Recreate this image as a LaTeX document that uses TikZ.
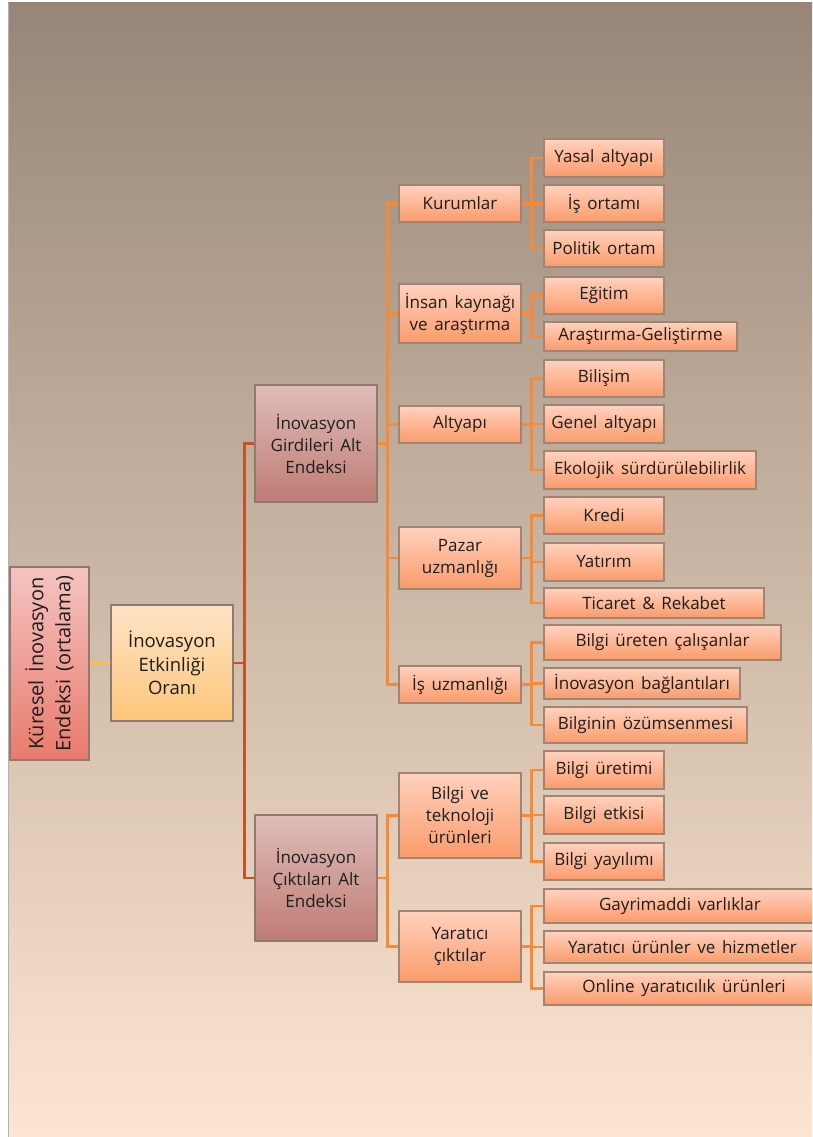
\documentclass[tikz,border=0pt]{standalone}
\usepackage{fontspec}
\setmainfont{Open Sans}[WordSpace=1.5]
\definecolor{bgtop}{HTML}{978677}
\definecolor{bgbot}{HTML}{FDE6D1}
\definecolor{leaftop}{HTML}{FFD1BE}
\definecolor{leafbot}{HTML}{FA9B6A}
\definecolor{leafline}{HTML}{A08575}
\definecolor{midtop}{HTML}{DFBDB9}
\definecolor{midbot}{HTML}{BF7B73}
\definecolor{midline}{HTML}{8F7A72}
\definecolor{onetop}{HTML}{FEE3C6}
\definecolor{onebot}{HTML}{FDC679}
\definecolor{roottop}{HTML}{F5C3C1}
\definecolor{rootbot}{HTML}{E97B6C}
\definecolor{connor}{HTML}{F98A35}
\definecolor{connrust}{HTML}{C25427}
\definecolor{connyel}{HTML}{F8BE50}
\definecolor{txt}{HTML}{1E1E1E}
\begin{document}
\begin{tikzpicture}[x=1pt,y=-1pt,
  leaf/.style={draw=leafline, line width=1.3pt, top color=leaftop, bottom color=leafbot,
    inner sep=0pt, minimum width=120, minimum height=37, text=txt, align=center,
    font=\fontsize{17}{22}\selectfont},
  midbox/.style={leaf, minimum width=122},
  subidx/.style={draw=midline, line width=1.3pt, top color=midtop, bottom color=midbot,
    inner sep=0pt, minimum width=122, text=txt, align=center,
    font=\fontsize{17}{22}\selectfont},
  ratio/.style={draw=midline, line width=1.3pt, top color=onetop, bottom color=onebot,
    inner sep=0pt, minimum width=122, minimum height=116, text=txt, align=center,
    font=\fontsize{18.5}{23.5}\selectfont},
  rootbox/.style={draw=midline, line width=1.3pt, top color=roottop, bottom color=rootbot,
    inner sep=0pt, minimum width=79, minimum height=193},
  roottext/.style={rotate=90, text=txt, align=center, inner sep=0pt,
    font=\fontsize{20}{27}\selectfont},
  conn/.style={draw=connor, line width=2.6pt},
  connA/.style={draw=connrust, line width=2.6pt},
  connB/.style={draw=connyel, line width=2.4pt}
]
\useasboundingbox (0,0) rectangle (812,1137);
\clip (0,0) rectangle (812,1137);
\fill[white] (0,0) rectangle (812,1137);
\shade[top color=bgtop, bottom color=bgbot] (8,3) rectangle (812,1137);
\draw[black!30, line width=0.8pt] (8,3) -- (8,1137);

% root and level 1
\node[rootbox] (root) at (49.5,663.5) {};
\node[roottext] (roott) at (root.center) {Küresel İnovasyon\\Endeksi (ortalama)};
\node[ratio] (eto) at (172,663) {İnovasyon\\Etkinliği\\Oranı};

% level 2
\node[subidx, minimum height=117] (gir) at (316,443.5) {İnovasyon\\Girdileri Alt\\Endeksi};
\node[subidx, minimum height=126] (cik) at (316,878) {İnovasyon\\Çıktıları Alt\\Endeksi};

% level 3
\node[midbox] (kur) at (460,203.5) {Kurumlar};
\node[midbox, minimum height=59] (ins) at (460,313.5) {İnsan kaynağı\\ve araştırma};
\node[midbox] (alt) at (460,424.5) {Altyapı};
\node[midbox, minimum height=62] (paz) at (460,558) {Pazar\\uzmanlığı};
\node[midbox] (isu) at (460,684.5) {İş uzmanlığı};
\node[midbox, minimum height=85] (bvt) at (460,815.5) {Bilgi ve\\teknoloji\\ürünleri};
\node[midbox, minimum height=71] (yar) at (460,946.5) {Yaratıcı\\çıktılar};

% leaves
\node[leaf, minimum height=38] (l1) at (604,158) {Yasal altyapı};
\node[leaf] (l2) at (604,203.5) {İş ortamı};
\node[leaf] (l3) at (604,248.5) {Politik ortam};
\node[leaf] (l4) at (604,295.5) {Eğitim};
\node[leaf, minimum width=193, minimum height=29] (l5) at (640.5,336.5) {Araştırma-Geliştirme};
\node[leaf] (l6) at (604,378.5) {Bilişim};
\node[leaf, minimum height=38] (l7) at (604,424) {Genel altyapı};
\node[leaf, minimum width=212, minimum height=38] (l8) at (650,470) {Ekolojik sürdürülebilirlik};
\node[leaf] (l9) at (604,515.5) {Kredi};
\node[leaf, minimum height=38] (l10) at (604,562) {Yatırım};
\node[leaf, minimum width=220, minimum height=30] (l11) at (654,603) {Ticaret \& Rekabet};
\node[leaf, minimum width=237, minimum height=35] (l12) at (662.5,642.5) {Bilgi üreten çalışanlar};
\node[leaf, minimum width=196, minimum height=31] (l13) at (642,683.5) {İnovasyon bağlantıları};
\node[leaf, minimum width=203, minimum height=36] (l14) at (645.5,725) {Bilginin özümsenmesi};
\node[leaf, minimum height=38] (l15) at (604,770) {Bilgi üretimi};
\node[leaf, minimum height=38] (l16) at (604,815) {Bilgi etkisi};
\node[leaf] (l17) at (604,861.5) {Bilgi yayılımı};
\node[leaf, minimum width=272, minimum height=34] (l18) at (680,906) {Gayrimaddi varlıklar};
\node[leaf, minimum width=277, minimum height=32] (l19) at (682.5,947) {Yaratıcı ürünler ve hizmetler};
\node[leaf, minimum width=280, minimum height=33] (l20) at (684,988.5) {Online yaratıcılık ürünleri};

% connectors
\draw[connB] (root.east) -- (eto.west);
\foreach \c in {gir,cik}
  \draw[connA] (eto.east) -- ++(11,0) |- (\c.west);
\foreach \c in {kur,ins,alt,paz,isu}
  \draw[conn] (gir.east) -- ++(10,0) |- (\c.west);
\foreach \c in {bvt,yar}
  \draw[conn] (cik.east) -- ++(10,0) |- (\c.west);
\foreach \p/\c in {kur/l1,kur/l2,kur/l3,ins/l4,ins/l5,alt/l6,alt/l7,alt/l8,
                   paz/l9,paz/l10,paz/l11,isu/l12,isu/l13,isu/l14,
                   bvt/l15,bvt/l16,bvt/l17,yar/l18,yar/l19,yar/l20}
  \draw[conn] (\p.east) -- ++(10,0) |- (\c.west);
\end{tikzpicture}
\end{document}
